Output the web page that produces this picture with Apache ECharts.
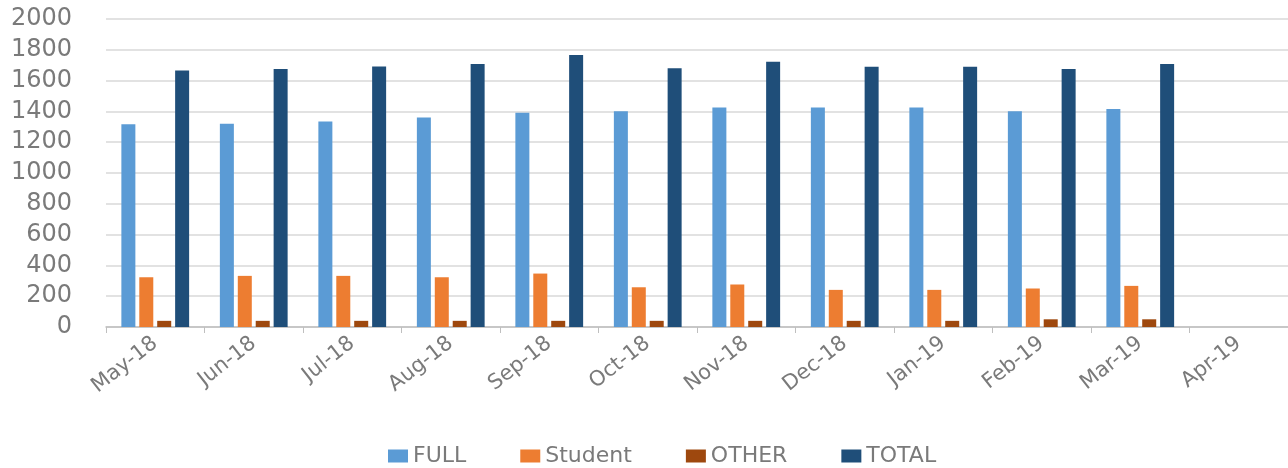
<!DOCTYPE html>
<html>
<head>
<meta charset="utf-8">
<script src="https://cdn.jsdelivr.net/npm/echarts@6/dist/echarts.min.js"></script>
<style>
  html, body { margin: 0; padding: 0; background: #fff; }
  #chart { width: 1288px; height: 468px; }
</style>
</head>
<body>
<div id="chart"></div>
<script>
const months = ['May-18', 'Jun-18', 'Jul-18', 'Aug-18', 'Sep-18', 'Oct-18',
  'Nov-18', 'Dec-18', 'Jan-19', 'Feb-19', 'Mar-19', 'Apr-19']
const fullData = [1317, 1320, 1334, 1360, 1392, 1401, 1425, 1425, 1425, 1401, 1416, null]
const studentData = [323, 332, 332, 323, 347, 258, 276, 241, 241, 250, 267, null]
const otherData = [40, 40, 40, 40, 40, 40, 40, 40, 40, 50, 50, null]
const totalData = [1666, 1675, 1692, 1707, 1766, 1681, 1722, 1690, 1690, 1675, 1707, null]

const chart = echarts.init(document.getElementById('chart'))
const font = 'DejaVu Sans'
const bar = (name, data, color) => ({
  name: name,
  type: 'bar',
  data: data,
  barWidth: 14,
  barGap: '28%',
  itemStyle: { color: color }
})

chart.setOption({
  animation: false,
  textStyle: { fontFamily: font },
  grid: { left: 106, right: 0, top: 19, bottom: 141 },
  legend: {
    top: 440,
    left: 383,
    icon: 'rect',
    itemWidth: 20,
    itemHeight: 13,
    itemGap: 54,
    textStyle: { fontSize: 22, color: '#7a7a7a', fontFamily: font }
  },
  xAxis: {
    type: 'category',
    data: months,
    axisLine: { lineStyle: { color: '#bfbfbf', width: 1.5 } },
    axisTick: { show: true, length: 6, lineStyle: { color: '#bfbfbf' } },
    axisLabel: { rotate: 38, fontSize: 21, color: '#7a7a7a', margin: 14 }
  },
  yAxis: {
    type: 'value',
    min: 0,
    max: 2000,
    interval: 200,
    axisLine: { show: false },
    axisTick: { show: false },
    axisLabel: {
      fontSize: 24,
      color: '#7a7a7a',
      margin: 34,
      formatter: v => String(v)
    },
    splitLine: { lineStyle: { color: '#d9d9d9', width: 1.5 } }
  },
  series: [
    bar('FULL', fullData, '#5b9bd5'),
    bar('Student', studentData, '#ed7d31'),
    bar('OTHER', otherData, '#9e480e'),
    bar('TOTAL', totalData, '#1f4e79')
  ]
})
</script>
</body>
</html>
